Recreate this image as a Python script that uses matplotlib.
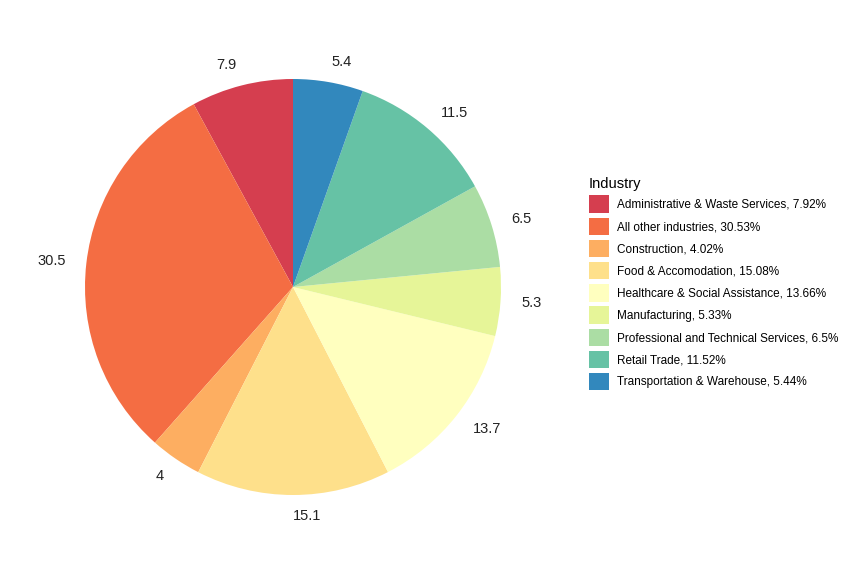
import matplotlib
matplotlib.use("Agg")
import matplotlib.pyplot as plt
from matplotlib.patches import Patch

plt.rcParams["font.family"] = "Liberation Sans"

industries = ["Administrative & Waste Services", "All other industries", "Construction",
              "Food & Accomodation", "Healthcare & Social Assistance", "Manufacturing",
              "Professional and Technical Services", "Retail Trade", "Transportation & Warehouse"]
shares = [7.92, 30.53, 4.02, 15.08, 13.66, 5.33, 6.5, 11.52, 5.44]
colors = ["#D53E4F", "#F46D43", "#FDAE61", "#FEE08B", "#FFFFBF",
          "#E6F598", "#ABDDA4", "#66C2A5", "#3288BD"]

fig = plt.figure(figsize=(8.58, 5.73), dpi=100)
w, h = 416 / 858, 416 / 573
ax = fig.add_axes([293 / 858 - w / 2, (573 - 287) / 573 - h / 2, w, h])
labels = [f"{round(v, 1):g}" for v in shares]
ax.pie(shares, colors=colors, startangle=90, counterclock=True, labels=labels,
       labeldistance=1.1, textprops={"fontsize": 10.5, "color": "#222222"},
       wedgeprops={"linewidth": 0})
ax.set_xlim(-1, 1)
ax.set_ylim(-1, 1)
ax.set_aspect("equal")

handles = [Patch(facecolor=c, edgecolor="none") for c in colors]
leg_labels = [f"{n}, {v:g}%" for n, v in zip(industries, shares)]
leg = fig.legend(handles, leg_labels, title="Industry", loc="upper left",
                 bbox_to_anchor=(578 / 858, 1 - 166 / 573), frameon=False,
                 fontsize=8.5, title_fontsize=10.5, handlelength=1.7, handleheight=1.9,
                 labelspacing=0.4, handletextpad=0.7, alignment="left")
fig.savefig("out.png", dpi=100)
